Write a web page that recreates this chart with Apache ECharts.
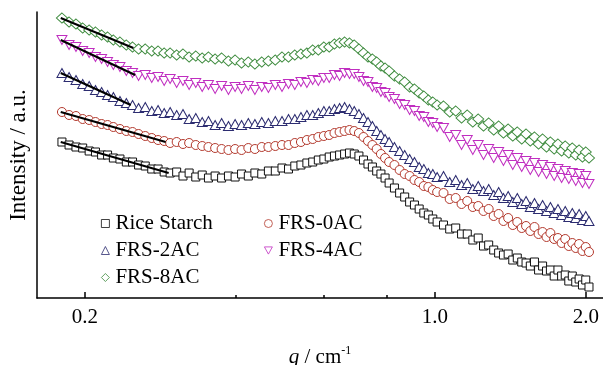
<!DOCTYPE html>
<html>
<head>
<meta charset="utf-8">
<script src="https://cdn.jsdelivr.net/npm/echarts@6/dist/echarts.min.js"></script>
<style>
html,body{margin:0;padding:0;background:#fff;}
#chart{width:603px;height:365px;}
</style>
</head>
<body>
<div id="chart"></div>
<script>
// q values (cm^-1)
const q = [0.180,0.186,0.192,0.198,0.204,0.210,0.216,0.222,0.228,0.235,0.242,0.249,0.256,0.264,0.272,0.280,0.288,0.296,
0.305,0.314,0.323,0.333,0.343,0.353,0.364,0.375,0.387,0.399,0.411,0.424,0.437,0.451,0.465,0.480,0.495,
0.510,0.525,0.540,0.555,0.570,0.585,0.600,0.615,0.630,0.645,0.660,0.675,0.690,0.705,0.720,0.735,0.750,0.765,0.780,0.795,0.810,
0.83,0.85,0.87,0.89,0.91,0.93,0.95,0.97,0.99,
1.01,1.04,1.07,1.10,1.13,1.16,1.19,1.22,1.25,1.28,1.31,1.34,1.37,1.40,1.43,1.46,1.49,1.52,1.55,1.58,1.61,1.64,1.67,1.70,1.73,1.76,1.79,1.82,1.85,1.88,1.91,1.94,1.97,2.00,2.03];

// Intensity (a.u., vertically shifted curves)
const riceStarch = [158,155,153,152,149,148,145,145,142,141,138,138,135,134,131,131,128,127,
128,124,127,123,125,122,124,122,124,123,126,124,127,126,129,129,132,131,134,135,137,138,
140,141,143,144,145,146,147,146,144,140,136,133,129,126,122,117,112,107,103,98,95,91,87,85,81,
78,75,71,72,66,66,60,62,54,55,50,47,45,46,40,42,38,37,34,38,30,34,29,30,24,30,24,25,19,24,18,21,15,20,13];

const frs0AC = [188,185,184,181,180,178,176,175,173,171,169,168,166,164,162,160,159,157,
158,156,157,155,154,153,152,151,150,151,150,152,151,153,153,154,155,155,157,158,160,161,
163,164,165,167,168,169,170,169,167,163,159,155,151,146,142,138,135,130,126,124,120,118,114,113,110,
108,107,101,102,96,99,93,94,89,91,84,86,79,82,75,78,72,74,69,73,66,68,63,67,61,62,57,61,54,57,52,56,49,53,48];

const frs2AC = [227,223,220,216,214,210,208,205,203,199,197,195,192,193,189,190,187,188,
185,186,181,182,178,179,175,177,174,176,175,177,176,178,177,179,179,181,181,183,185,185,
187,189,189,191,192,193,191,189,186,182,178,174,169,165,161,158,153,149,145,141,138,133,131,127,126,
123,124,118,120,115,117,111,114,109,111,105,108,102,104,98,102,96,99,93,97,91,95,89,93,87,91,85,89,83,87,82,86,80,84,79];

const frs4AC = [260,255,253,249,247,243,241,238,235,233,229,227,224,225,222,223,219,221,
217,219,215,217,213,215,211,214,210,213,211,214,210,213,212,215,213,216,215,218,217,220,
219,222,222,225,224,227,226,226,223,219,218,213,212,208,207,203,201,196,195,190,189,184,183,178,177,
173,172,163,165,155,160,150,155,145,151,142,148,139,145,135,142,133,139,130,137,128,135,126,133,124,131,122,129,121,127,119,126,117,124,116];

const frs8AC = [282,278,276,272,270,268,265,263,260,258,255,253,251,251,249,249,247,247,
245,246,243,244,242,243,241,242,239,240,237,238,236,238,239,240,243,243,245,246,247,250,
250,253,253,256,257,258,257,255,251,247,243,241,238,234,232,229,224,221,218,213,211,207,204,200,198,
195,194,188,189,182,185,178,181,174,177,170,174,167,171,164,168,161,166,159,163,156,161,153,158,151,156,149,154,147,152,145,150,143,148,142];

// Low-q power-law fit lines: [q, intensity] end points
const fitRice = [[0.179,158],[0.294,127]];
const fit0AC  = [[0.179,188],[0.290,158]];
const fit2AC  = [[0.179,227],[0.247,195]];
const fit4AC  = [[0.179,260],[0.252,225]];
const fit8AC  = [[0.179,282],[0.250,252]];

const majorTicks = [0.2, 1.0, 2.0];
const minorTicks = [0.4, 0.6, 0.8];

const seriesNames = ['Rice Starch','FRS-0AC','FRS-2AC','FRS-4AC','FRS-8AC'];
const seriesValues = [riceStarch, frs0AC, frs2AC, frs4AC, frs8AC];
const fits = [fitRice, fit0AC, fit2AC, fit4AC, fit8AC];
const colors = ['#111111','#b3382c','#2c2c70','#c02ec0','#3c8a3c'];
const symbols = ['rect','circle','triangle','path://M0,0L10,0L5,9Z','diamond'];
const sizes = [8, 9, [10,9], [10,9], [11,10]];

const FONT = 'Liberation Serif, Times New Roman, serif';
const FS = 21;
const XMIN = 0.1605, XMAX = 2.165;

const series = [];
seriesNames.forEach((name, k) => {
  series.push({
    name: name,
    type: 'scatter',
    symbol: symbols[k],
    symbolSize: sizes[k],
    itemStyle: { color: '#ffffff', borderColor: colors[k], borderWidth: 1, opacity: 1 },
    data: q.map((x, i) => [x, seriesValues[k][i]]),
    z: 2 + k
  });
});
fits.forEach((f) => {
  series.push({
    type: 'line',
    data: f,
    symbol: 'none',
    lineStyle: { color: '#000', width: 2 },
    z: 20,
    silent: true
  });
});

const legendCommon = {
  orient: 'vertical', top: 213, padding: 0,
  itemWidth: 8, itemHeight: 8, itemGap: 6,
  itemStyle: { borderWidth: 0.8 },
  textStyle: { fontFamily: FONT, fontSize: FS, color: '#000', lineHeight: 21, padding: [0,0,0,1] }
};

const chart = echarts.init(document.getElementById('chart'));
chart.setOption({
  animation: false,
  backgroundColor: '#fff',
  grid: { left: 37, right: 0, top: 12, bottom: 67, containLabel: false, outerBoundsMode: 'none' },
  legend: [
    Object.assign({}, legendCommon, { data: ['Rice Starch','FRS-2AC','FRS-8AC'], left: 101 }),
    Object.assign({}, legendCommon, { data: ['FRS-0AC','FRS-4AC'], left: 264 })
  ],
  xAxis: [
    {
      type: 'log', logBase: 10, min: XMIN, max: XMAX,
      name: '{i|q} / cm{sup|-1}', nameLocation: 'middle', nameGap: 47,
      nameTextStyle: {
        fontFamily: FONT, fontSize: FS, color: '#000', lineHeight: 24,
        rich: {
          i: { fontFamily: FONT, fontSize: FS, fontStyle: 'italic', color: '#000' },
          sup: { fontFamily: FONT, fontSize: 12, color: '#000', verticalAlign: 'top', lineHeight: 12 }
        }
      },
      axisLine: { show: true, lineStyle: { color: '#000', width: 1.5 } },
      axisTick: { show: true, inside: true, length: 6, customValues: majorTicks, lineStyle: { color: '#000', width: 1.5 } },
      axisLabel: { show: true, customValues: majorTicks, margin: 9, fontFamily: FONT, fontSize: FS, color: '#000',
        formatter: (v) => Number(v).toFixed(1) },
      splitLine: { show: false },
      minorTick: { show: false }
    },
    {
      type: 'log', logBase: 10, min: XMIN, max: XMAX, position: 'bottom', offset: 0,
      axisLine: { show: false },
      axisTick: { show: true, inside: true, length: 3, customValues: minorTicks, lineStyle: { color: '#000', width: 1.5 } },
      axisLabel: { show: false },
      splitLine: { show: false }
    }
  ],
  yAxis: {
    type: 'value', min: 2, max: 288,
    name: 'Intensity / a.u.', nameLocation: 'middle', nameGap: 7,
    nameTextStyle: { fontFamily: FONT, fontSize: 23, color: '#000' },
    axisLine: { show: true, lineStyle: { color: '#000', width: 1.5 } },
    axisTick: { show: false },
    axisLabel: { show: false },
    splitLine: { show: false }
  },
  series: series
});
</script>
</body>
</html>
